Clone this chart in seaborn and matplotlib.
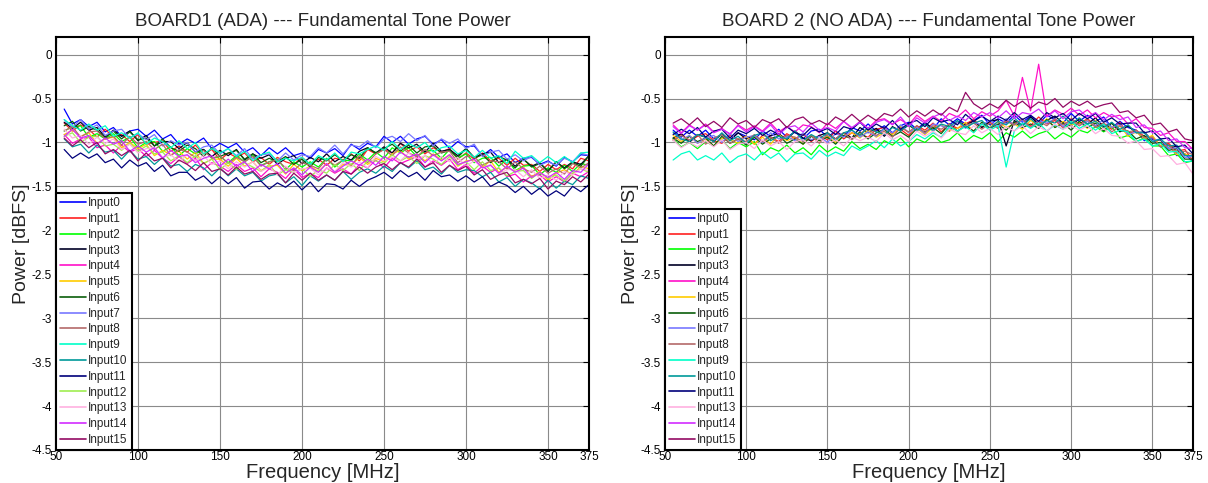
import matplotlib
matplotlib.use("Agg")
import matplotlib.pyplot as plt
import numpy as np
import pandas as pd
import seaborn as sns

# Frequency sweep, MHz (5 MHz steps)
freq_mhz = list(range(55, 376, 5))

# Fundamental tone power, hundredths of a dBFS, BOARD1 (ADA)
b1_input0 = [-62,-79,-74,-82,-77,-88,-83,-93,-87,-85, -93,-86,-96,-91,-102,-96,-101,-95,-107,-101, -106,-101,-111,-106,-115,-106,-113,-106,-115,-112, -118,-108,-112,-107,-115,-102,-108,-101,-105,-93, -100,-93,-102,-96,-93,-102,-97,-107,-99,-105, -104,-115,-108,-117,-113,-123,-118,-117,-125,-121, -127,-117,-122,-114,-115]
b1_input1 = [-78,-87,-80,-85,-94,-85,-94,-91,-99,-91, -102,-100,-98,-110,-104,-111,-103,-113,-108,-120, -112,-117,-112,-122,-117,-125,-117,-122,-125,-117, -125,-119,-126,-118,-120,-113,-121,-108,-113,-108, -112,-101,-110,-105,-113,-106,-111,-107,-119,-112, -119,-112,-121,-118,-126,-118,-126,-125,-133,-125, -131,-125,-130,-118,-121]
b1_input2 = [-87,-82,-81,-94,-90,-96,-90,-99,-94,-106, -100,-99,-110,-105,-115,-107,-113,-108,-118,-116, -123,-115,-122,-115,-126,-122,-119,-131,-122,-128, -122,-128,-118,-128,-120,-121,-113,-120,-111,-118, -106,-112,-106,-116,-110,-109,-118,-108,-118,-113, -123,-118,-117,-127,-119,-132,-127,-126,-137,-129, -134,-126,-133,-124,-126]
b1_input3 = [-77,-84,-77,-86,-83,-94,-86,-93,-87,-98, -92,-104,-99,-99,-107,-100,-111,-108,-116,-109, -115,-108,-120,-113,-118,-114,-125,-118,-115,-124, -117,-122,-113,-122,-116,-120,-110,-106,-112,-105, -112,-101,-106,-102,-111,-101,-110,-108,-115,-107, -117,-113,-111,-123,-119,-127,-119,-127,-123,-133, -122,-129,-122,-125,-115]
b1_input4 = [-91,-101,-96,-94,-106,-103,-112,-103,-111,-107, -116,-109,-118,-124,-116,-124,-118,-131,-123,-127, -133,-125,-133,-129,-139,-130,-134,-141,-130,-140, -135,-140,-129,-135,-130,-136,-125,-129,-120,-129, -118,-124,-120,-116,-128,-121,-126,-119,-131,-125, -135,-127,-134,-129,-139,-136,-145,-138,-137,-145, -139,-145,-135,-139,-133]
b1_input5 = [-91,-86,-93,-89,-101,-96,-94,-106,-100,-107, -102,-115,-109,-114,-110,-119,-111,-124,-119,-119, -127,-118,-127,-122,-132,-127,-126,-136,-125,-132, -127,-133,-124,-134,-125,-126,-117,-125,-118,-122, -113,-109,-119,-113,-121,-113,-120,-114,-127,-121, -120,-128,-121,-134,-128,-133,-128,-139,-133,-143, -135,-131,-137,-127,-130]
b1_input6 = [-81,-76,-87,-82,-86,-95,-87,-96,-88,-97, -95,-104,-96,-106,-110,-103,-107,-116,-106,-116, -112,-109,-119,-113,-123,-118,-122,-116,-125,-119, -128,-117,-121,-114,-121,-114,-118,-106,-112,-107, -102,-110,-103,-112,-105,-104,-112,-109,-117,-107, -118,-114,-123,-116,-120,-129,-119,-128,-124,-132, -122,-130,-123,-127,-115]
b1_input7 = [-74,-83,-74,-85,-80,-92,-87,-85,-95,-90, -97,-91,-104,-98,-103,-100,-111,-105,-103,-113, -107,-115,-107,-119,-114,-113,-121,-112,-120,-114, -116,-106,-112,-103,-113,-103,-105,-98,-106,-96, -93,-99,-90,-98,-92,-104,-96,-101,-96,-107, -102,-116,-111,-109,-119,-114,-121,-116,-126,-122, -126,-118,-122,-112,-115]
b1_input8 = [-87,-82,-94,-88,-87,-96,-93,-103,-93,-102, -99,-108,-102,-115,-108,-111,-117,-109,-118,-115, -124,-117,-122,-116,-127,-122,-120,-129,-132,-123, -126,-130,-119,-126,-120,-126,-115,-123,-113,-108, -115,-105,-112,-116,-108,-115,-111,-110,-123,-116, -116,-126,-121,-122,-130,-122,-130,-134,-127,-135, -130,-136,-124,-129,-123]
b1_input9 = [-74,-81,-86,-79,-86,-81,-93,-89,-95,-89, -102,-95,-99,-106,-98,-107,-100,-113,-107,-112, -107,-116,-110,-121,-114,-111,-122,-118,-121,-117, -125,-115,-120,-112,-122,-111,-113,-108,-104,-109, -99,-108,-101,-106,-100,-111,-106,-104,-113,-109, -117,-109,-118,-115,-124,-110,-118,-115,-123,-116, -123,-116,-123,-112,-111]
b1_input10 = [-96,-105,-102,-112,-103,-111,-109,-119,-109,-119, -116,-125,-117,-127,-125,-133,-125,-129,-138,-129, -138,-130,-138,-134,-144,-138,-136,-146,-139,-149, -138,-144,-137,-143,-133,-142,-134,-130,-135,-127, -133,-123,-129,-121,-131,-128,-136,-126,-134,-131, -132,-139,-134,-145,-140,-150,-142,-146,-153,-143, -152,-144,-148,-138,-141]
b1_input11 = [-108,-118,-112,-118,-113,-123,-119,-129,-120,-127, -123,-133,-126,-138,-134,-134,-143,-138,-147,-139, -147,-140,-152,-145,-144,-153,-146,-151,-144,-154, -145,-156,-147,-148,-153,-143,-150,-143,-139,-134, -141,-132,-139,-134,-143,-132,-139,-137,-144,-138, -145,-139,-150,-145,-149,-157,-150,-159,-152,-161, -155,-161,-150,-156,-148]
b1_input12 = [-93,-89,-100,-94,-93,-104,-102,-109,-101,-110, -104,-113,-111,-121,-115,-123,-115,-124,-119,-131, -123,-131,-123,-128,-133,-125,-137,-131,-134,-130, -139,-131,-135,-125,-132,-124,-132,-121,-121,-124, -114,-121,-116,-124,-115,-119,-125,-116,-126,-122, -131,-122,-132,-129,-138,-133,-132,-141,-134,-141, -137,-144,-135,-130,-134]
b1_input13 = [-85,-95,-92,-102,-94,-101,-96,-108,-102,-112, -107,-106,-117,-114,-122,-114,-121,-115,-125,-121, -130,-122,-128,-122,-133,-128,-137,-127,-134,-130, -129,-137,-129,-133,-123,-128,-122,-129,-116,-121, -117,-121,-112,-119,-115,-125,-116,-122,-117,-127, -121,-129,-125,-136,-131,-131,-139,-131,-141,-137, -143,-133,-137,-130,-132]
b1_input14 = [-93,-85,-95,-92,-102,-95,-102,-98,-110,-104, -111,-106,-118,-109,-116,-114,-123,-118,-115,-127, -119,-127,-122,-133,-125,-130,-124,-135,-129,-137, -128,-134,-124,-134,-127,-121,-126,-119,-126,-116, -121,-111,-117,-113,-123,-114,-121,-114,-125,-122, -119,-129,-126,-135,-127,-134,-129,-140,-134,-140, -134,-142,-132,-134,-124]
b1_input15 = [-95,-104,-97,-106,-100,-113,-108,-115,-109,-121, -112,-121,-118,-129,-120,-125,-132,-123,-133,-130, -137,-128,-136,-133,-142,-136,-135,-146,-135,-143, -135,-143,-137,-143,-133,-136,-128,-135,-128,-124, -131,-123,-128,-119,-128,-123,-134,-126,-132,-127, -137,-131,-142,-137,-134,-146,-142,-147,-141,-153, -144,-148,-139,-145,-136]

# Fundamental tone power, hundredths of a dBFS, BOARD 2 (NO ADA)
b2_input0 = [-86,-94,-86,-93,-86,-96,-91,-97,-89,-93, -97,-87,-93,-85,-94,-88,-96,-87,-85,-94, -87,-93,-83,-87,-79,-87,-81,-89,-81,-77, -85,-77,-85,-73,-80,-73,-79,-75,-69,-80, -73,-78,-69,-77,-70,-79,-69,-74,-78,-67, -76,-69,-76,-71,-83,-76,-83,-86,-98,-96, -105,-102,-115,-113,-122]
b2_input1 = [-97,-90,-99,-93,-90,-98,-101,-92,-97,-93, -102,-92,-94,-99,-90,-96,-90,-99,-92,-97, -87,-96,-89,-91,-94,-85,-83,-90,-85,-92, -81,-86,-78,-88,-79,-84,-79,-74,-83,-77, -84,-75,-79,-74,-81,-71,-79,-75,-83,-73, -79,-73,-81,-78,-85,-77,-91,-86,-93,-94, -104,-101,-110,-108,-121]
b2_input2 = [-96,-105,-100,-107,-99,-104,-97,-107,-100,-105, -99,-114,-106,-110,-103,-112,-106,-114,-103,-111, -105,-110,-99,-107,-102,-108,-98,-103,-95,-105, -96,-100,-92,-100,-97,-89,-99,-92,-96,-89, -99,-89,-94,-87,-95,-90,-87,-96,-89,-94, -86,-89,-82,-88,-82,-95,-92,-99,-95,-104, -104,-115,-113,-123,-121]
b2_input3 = [-95,-90,-100,-91,-94,-99,-90,-98,-89,-96, -92,-99,-92,-90,-97,-87,-95,-98,-92,-89, -96,-89,-95,-83,-89,-84,-93,-82,-87,-80, -87,-78,-84,-80,-87,-76,-80,-76,-83,-76, -74,-104,-75,-81,-71,-79,-75,-70,-78,-81, -73,-79,-72,-82,-78,-88,-81,-89,-88,-98, -97,-107,-104,-114,-116]
b2_input4 = [-80,-89,-80,-86,-79,-88,-84,-91,-80,-86, -81,-87,-78,-88,-82,-88,-80,-82,-89,-78, -84,-76,-84,-76,-84,-75,-73,-79,-74,-80, -69,-76,-70,-76,-67,-71,-63,-73,-65,-70, -64,-52,-70,-26,-64,-11,-70,-63,-68,-61, -69,-63,-72,-66,-71,-69,-79,-73,-83,-84, -92,-89,-99,-99,-108]
b2_input5 = [-92,-99,-92,-101,-96,-104,-95,-97,-101,-93, -102,-94,-102,-91,-98,-94,-102,-92,-98,-93, -100,-92,-89,-95,-86,-94,-89,-91,-82,-89, -84,-91,-83,-80,-87,-84,-77,-88,-79,-83, -76,-83,-79,-85,-75,-81,-73,-83,-76,-80, -77,-84,-75,-84,-82,-81,-93,-88,-96,-92, -104,-103,-114,-113,-117]
b2_input6 = [-95,-101,-93,-99,-95,-104,-93,-101,-96,-103, -94,-102,-96,-92,-101,-96,-102,-93,-98,-94, -102,-92,-96,-88,-96,-89,-85,-93,-88,-94, -84,-88,-83,-90,-79,-87,-81,-87,-77,-84, -79,-86,-77,-83,-79,-84,-74,-83,-78,-86, -76,-83,-78,-87,-78,-87,-87,-96,-92,-101, -100,-109,-107,-119,-119]
b2_input7 = [-89,-97,-92,-101,-95,-92,-100,-90,-99,-94, -92,-100,-89,-96,-93,-98,-89,-97,-93,-100, -90,-94,-86,-94,-88,-93,-84,-89,-80,-89, -83,-90,-79,-81,-85,-76,-84,-77,-80,-75, -82,-73,-80,-75,-83,-75,-78,-73,-82,-74, -81,-76,-81,-74,-83,-79,-91,-88,-89,-98, -96,-107,-106,-117,-116]
b2_input8 = [-98,-92,-97,-91,-102,-95,-91,-101,-96,-99, -91,-99,-94,-101,-92,-94,-99,-92,-101,-90, -96,-89,-97,-90,-84,-92,-87,-94,-83,-88, -81,-89,-81,-85,-79,-88,-80,-78,-85,-78, -84,-76,-80,-73,-83,-76,-81,-73,-80,-74, -81,-74,-83,-78,-88,-81,-88,-86,-95,-94, -105,-103,-112,-110,-114]
b2_input9 = [-120,-113,-110,-120,-115,-120,-112,-123,-116,-113, -120,-111,-118,-112,-122,-113,-112,-119,-109,-116, -111,-115,-104,-109,-104,-98,-106,-96,-104,-99, -91,-96,-89,-94,-82,-87,-82,-89,-79,-86, -81,-128,-87,-78,-84,-78,-87,-80,-85,-76, -84,-79,-86,-79,-90,-86,-88,-99,-96,-104, -101,-111,-110,-122,-121]
b2_input10 = [-88,-96,-99,-91,-94,-99,-89,-98,-93,-101, -92,-89,-98,-93,-96,-87,-98,-91,-96,-89, -98,-89,-86,-92,-83,-88,-91,-83,-87,-79, -87,-79,-87,-79,-82,-75,-83,-78,-75,-84, -76,-80,-72,-81,-73,-81,-75,-78,-70,-79, -72,-79,-76,-83,-77,-85,-80,-89,-89,-99, -96,-104,-103,-115,-115]
b2_input11 = [-91,-85,-90,-83,-94,-87,-85,-95,-86,-90, -84,-92,-86,-91,-82,-89,-92,-83,-88,-84, -91,-82,-85,-77,-86,-79,-84,-75,-85,-78, -75,-82,-72,-77,-74,-80,-68,-76,-70,-76, -70,-75,-66,-74,-69,-76,-66,-72,-67,-75, -67,-73,-67,-77,-72,-79,-78,-78,-89,-87, -96,-95,-105,-103,-113]
b2_input13 = [-97,-106,-100,-105,-98,-105,-97,-108,-102,-100, -107,-97,-104,-99,-108,-99,-97,-104,-95,-102, -97,-104,-94,-98,-94,-99,-89,-97,-92,-99, -87,-93,-87,-95,-85,-89,-91,-81,-89,-84, -91,-82,-87,-81,-90,-82,-87,-79,-85,-81, -86,-81,-90,-84,-92,-93,-101,-98,-108,-107, -116,-115,-125,-123,-136]
b2_input14 = [-82,-90,-81,-86,-80,-89,-85,-90,-81,-88, -82,-88,-80,-91,-83,-81,-88,-78,-86,-83, -87,-76,-83,-77,-84,-77,-74,-80,-71,-82, -72,-78,-71,-67,-75,-70,-75,-66,-71,-66, -72,-64,-73,-66,-68,-62,-71,-64,-73,-65, -63,-71,-66,-74,-68,-74,-71,-83,-80,-89, -87,-98,-96,-106,-107]
b2_input15 = [-78,-73,-80,-72,-82,-76,-83,-72,-79,-75, -83,-74,-78,-73,-83,-74,-71,-79,-75,-80, -71,-76,-68,-76,-69,-75,-67,-70,-62,-71, -64,-70,-63,-69,-60,-65,-43,-56,-62,-56, -61,-52,-59,-53,-61,-54,-57,-50,-60,-53, -58,-53,-60,-57,-55,-66,-64,-72,-69,-80, -78,-88,-85,-96,-98]

board1_series = {
    "Input0": b1_input0, "Input1": b1_input1, "Input2": b1_input2, "Input3": b1_input3,
    "Input4": b1_input4, "Input5": b1_input5, "Input6": b1_input6, "Input7": b1_input7,
    "Input8": b1_input8, "Input9": b1_input9, "Input10": b1_input10, "Input11": b1_input11,
    "Input12": b1_input12, "Input13": b1_input13, "Input14": b1_input14, "Input15": b1_input15,
}
board2_series = {
    "Input0": b2_input0, "Input1": b2_input1, "Input2": b2_input2, "Input3": b2_input3,
    "Input4": b2_input4, "Input5": b2_input5, "Input6": b2_input6, "Input7": b2_input7,
    "Input8": b2_input8, "Input9": b2_input9, "Input10": b2_input10, "Input11": b2_input11,
    "Input13": b2_input13, "Input14": b2_input14, "Input15": b2_input15,
}

input_colors = {
    "Input0": "#0000FF", "Input1": "#FF2020", "Input2": "#00FF00", "Input3": "#000026",
    "Input4": "#FF10C8", "Input5": "#FFCC00", "Input6": "#0B5E0B", "Input7": "#7878FF",
    "Input8": "#B46A6A", "Input9": "#00FFC8", "Input10": "#00999A", "Input11": "#00007A",
    "Input12": "#A0EE50", "Input13": "#FFB0E0", "Input14": "#D22CFF", "Input15": "#930A64",
}

titles = ["BOARD1 (ADA) --- Fundamental Tone Power", "BOARD 2 (NO ADA) --- Fundamental Tone Power"]
x_ticks = [50, 100, 150, 200, 250, 300, 350, 375]
y_ticks = [-4.5, -4, -3.5, -3, -2.5, -2, -1.5, -1, -0.5, 0]
y_tick_labels = ["-4.5", "-4", "-3.5", "-3", "-2.5", "-2", "-1.5", "-1", "-0.5", "0"]


def to_long(series):
    frames = []
    for name, vals in series.items():
        frames.append(pd.DataFrame({
            "freq": freq_mhz,
            "power": np.asarray(vals, dtype=float) / 100.0,
            "input": name,
        }))
    return pd.concat(frames, ignore_index=True)


sns.set_theme(style="white")
plt.rcParams["font.family"] = ["Liberation Sans", "DejaVu Sans"]

fig = plt.figure(figsize=(12.08, 4.83), dpi=100)
W, H = 1208.0, 483.0
ax1 = fig.add_axes([56 / W, 33 / H, 533 / W, 413 / H])
ax2 = fig.add_axes([665 / W, 33 / H, 528 / W, 413 / H])

for ax, series, title in [(ax1, board1_series, titles[0]), (ax2, board2_series, titles[1])]:
    df = to_long(series)
    order = list(series.keys())
    sns.lineplot(data=df, x="freq", y="power", hue="input", hue_order=order,
                 palette={k: input_colors[k] for k in order}, estimator=None,
                 sort=False, linewidth=0.9, ax=ax)
    ax.set_xlim(50, 375)
    ax.set_ylim(-4.5, 0.2)
    ax.set_xticks(x_ticks)
    ax.set_xticklabels([str(t) for t in x_ticks])
    ax.set_yticks(y_ticks)
    ax.set_yticklabels(y_tick_labels)
    ax.set_axisbelow(True)
    ax.grid(True, color="#8a8a8a", linewidth=0.8, linestyle="-")
    ax.tick_params(direction="in", top=True, right=True, length=4, width=0.8,
                   labelsize=8.5, pad=3, colors="black")
    ax.tick_params(axis="x", pad=1)
    for sp in ax.spines.values():
        sp.set_color("black")
        sp.set_linewidth(1.5)
    ax.set_title(title, fontsize=13.5, pad=8)
    ax.set_xlabel("Frequency [MHz]", fontsize=14.5, labelpad=0)
    ax.set_ylabel("Power [dBFS]", fontsize=14, labelpad=1)

    handles, labels = ax.get_legend_handles_labels()
    leg = ax.legend(handles, labels, loc="lower left", bbox_to_anchor=(0, 0),
                    borderaxespad=0, frameon=True, fancybox=False, framealpha=1,
                    edgecolor="black", fontsize=8.5, handlelength=2.2,
                    handletextpad=0.15, labelspacing=0.32, borderpad=0.35)
    leg.get_frame().set_linewidth(1.5)
    for line in leg.get_lines():
        line.set_linewidth(1.2)

fig.savefig("out.png", dpi=100)
